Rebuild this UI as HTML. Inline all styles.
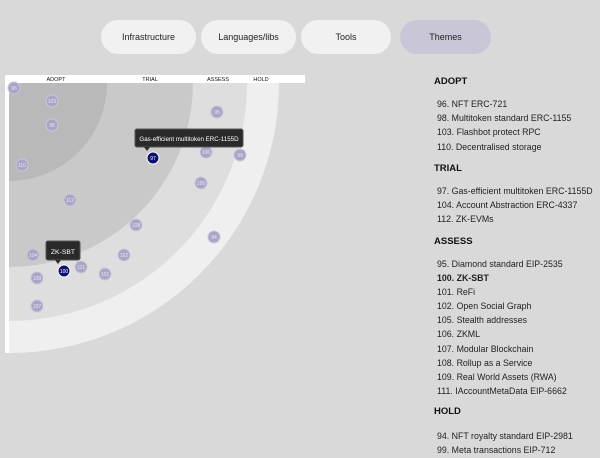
<!DOCTYPE html>
<html><head><style>
body{margin:0;width:600px;height:458px;background:#d9d9d9;font-family:"Liberation Sans",sans-serif;overflow:hidden;position:relative}
.tab{position:absolute;top:20px;height:34px;border-radius:17px;background:#f1f1f1;font-size:9px;color:#222;display:flex;align-items:center;justify-content:center}
.list{position:absolute;left:434px;font-size:8.8px;color:#222}
.h{position:absolute;left:434px;font-size:9.5px;font-weight:bold;color:#111}
</style></head><body>
<div class="tab" style="left:101px;width:95px">Infrastructure</div>
<div class="tab" style="left:201px;width:95px">Languages/libs</div>
<div class="tab" style="left:301px;width:90px">Tools</div>
<div class="tab" style="left:400px;width:91px;background:#c9c7d7">Themes</div>
<svg style="position:absolute;left:0;top:0" width="600" height="458" font-family="Liberation Sans, sans-serif">
<rect x="5" y="75" width="300" height="8" fill="#fff"/>
<rect x="5" y="75" width="4" height="278" fill="#fff"/>
<path d="M9,83 L279,83 A270,270 0 0 1 9,353 Z" fill="#efefef"/>
<path d="M9,83 L247,83 A238,238 0 0 1 9,321 Z" fill="#dedede"/>
<path d="M9,83 L193,83 A184,184 0 0 1 9,267 Z" fill="#c9c9c9"/>
<path d="M9,83 L107,83 A98,98 0 0 1 9,181 Z" fill="#b9b9b9"/>
<g font-size="5.5" fill="#111" text-anchor="middle">
<text x="56" y="81">ADOPT</text><text x="150" y="81">TRIAL</text><text x="218" y="81">ASSESS</text><text x="261" y="81">HOLD</text></g>
<g fill="#a9a5c6" stroke="#c9c7dc" stroke-width="1"><circle cx="14" cy="88" r="6"/><circle cx="52" cy="101" r="6"/><circle cx="52" cy="125" r="6"/><circle cx="22" cy="165" r="6"/><circle cx="217" cy="112" r="6"/><circle cx="206" cy="152" r="6"/><circle cx="240" cy="155" r="6"/><circle cx="201" cy="183" r="6"/><circle cx="70" cy="200" r="6"/><circle cx="136" cy="225" r="6"/><circle cx="214" cy="237" r="6"/><circle cx="33" cy="255" r="6"/><circle cx="124" cy="255" r="6"/><circle cx="81" cy="267" r="6"/><circle cx="105" cy="274" r="6"/><circle cx="37" cy="278" r="6"/><circle cx="37" cy="306" r="6"/></g>
<g font-size="5" fill="#e8e8f0" text-anchor="middle"><text x="14" y="90">96</text><text x="52" y="103">103</text><text x="52" y="127">98</text><text x="22" y="167">110</text><text x="217" y="114">95</text><text x="206" y="154">106</text><text x="240" y="157">99</text><text x="201" y="185">105</text><text x="70" y="202">112</text><text x="136" y="227">108</text><text x="214" y="239">94</text><text x="33" y="257">104</text><text x="124" y="257">102</text><text x="81" y="269">111</text><text x="105" y="276">101</text><text x="37" y="280">109</text><text x="37" y="308">107</text></g>
<circle cx="153" cy="158" r="6" fill="#0d1070" stroke="#fff"/><text x="153" y="160" font-size="5" fill="#fff" text-anchor="middle">97</text>
<circle cx="64" cy="271" r="6" fill="#0d1070" stroke="#fff"/><text x="64" y="273" font-size="5" fill="#fff" text-anchor="middle">100</text>
<rect x="135" y="129" width="108" height="18" rx="2" fill="#2a2a2a" stroke="#555"/><path d="M144,147 L147,151 L150,147Z" fill="#2a2a2a"/>
<text x="189" y="141" font-size="6.2" fill="#fff" text-anchor="middle">Gas-efficient multitoken ERC-1155D</text>
<rect x="46" y="241" width="34" height="19" rx="2" fill="#2a2a2a" stroke="#555"/><path d="M55,260 L58,264 L61,260Z" fill="#2a2a2a"/>
<text x="63" y="254" font-size="6.8" fill="#fff" text-anchor="middle">ZK-SBT</text>
</svg>
<div class="h" style="top:76px">ADOPT</div>
<div class="list" style="top:97px;line-height:14.2px;left:437px">96. NFT ERC-721<br>98. Multitoken standard ERC-1155<br>103. Flashbot protect RPC<br>110. Decentralised storage</div>
<div class="h" style="top:163px">TRIAL</div>
<div class="list" style="top:184px;line-height:14.2px;left:437px">97. Gas-efficient multitoken ERC-1155D<br>104. Account Abstraction ERC-4337<br>112. ZK-EVMs</div>
<div class="h" style="top:236px">ASSESS</div>
<div class="list" style="top:257px;line-height:14.1px;left:437px">95. Diamond standard EIP-2535<br><b>100. ZK-SBT</b><br>101. ReFi<br>102. Open Social Graph<br>105. Stealth addresses<br>106. ZKML<br>107. Modular Blockchain<br>108. Rollup as a Service<br>109. Real World Assets (RWA)<br>111. IAccountMetaData EIP-6662</div>
<div class="h" style="top:406px">HOLD</div>
<div class="list" style="top:429px;line-height:14.2px;left:437px">94. NFT royalty standard EIP-2981<br>99. Meta transactions EIP-712</div>
</body></html>
